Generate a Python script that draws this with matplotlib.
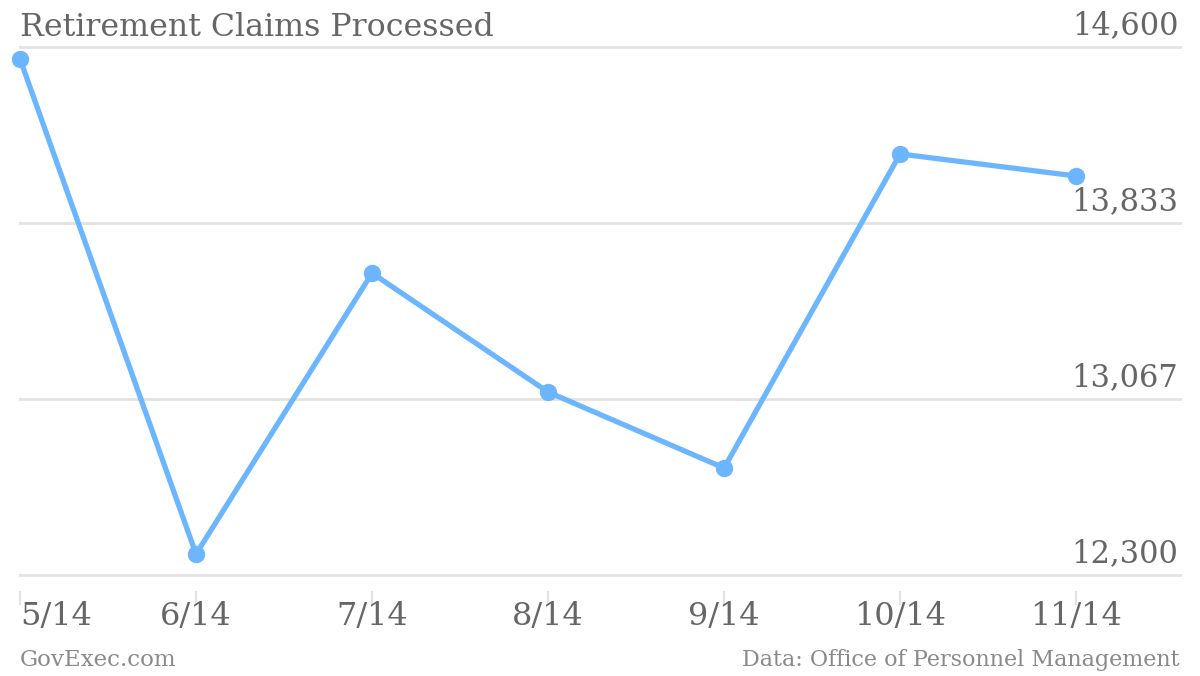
import matplotlib.pyplot as plt
import matplotlib.transforms as mtransforms

# data
months = ['5/14', '6/14', '7/14', '8/14', '9/14', '10/14', '11/14']
claims = [14548, 12391, 13615, 13097, 12766, 14134, 14038]
y_ticks = [12300, 13067, 13833, 14600]
y_labels = ['12,300', '13,067', '13,833', '14,600']

txt = '#666666'
light = '#8a8a8a'
grid = '#e2e2e2'
blue = '#6cb6ff'
font = 'DejaVu Serif'

fig = plt.figure(figsize=(12, 6.76), dpi=100)
ax = fig.add_axes([20 / 1200, 1 - 575 / 676, 1160 / 1200, 528 / 676])

x = list(range(len(months)))
ax.plot(x, claims, color=blue, linewidth=3.8, marker='o', markersize=11.5,
        solid_capstyle='round', clip_on=False, zorder=5)

ax.set_xlim(0, 6.59)
ax.set_ylim(y_ticks[0], y_ticks[-1])

# grid lines + right side labels sitting on them
for v, lab in zip(y_ticks, y_labels):
    ax.axhline(v, color=grid, linewidth=2, zorder=1, clip_on=False)
    ax.text(0.9985, v + 25, lab, transform=ax.get_yaxis_transform(), ha='right',
            va='bottom', fontsize=22, color=txt, family=font)

for s in ax.spines.values():
    s.set_visible(False)
ax.set_xticks([])
ax.set_yticks([])

# x ticks drawn below the axis
trans = mtransforms.blended_transform_factory(ax.transData, fig.transFigure)
for i, m in enumerate(x):
    ax.plot([m, m], [1 - 592 / 676, 1 - 604 / 676], color=grid, linewidth=1.5,
            transform=trans, clip_on=False)
    ax.text(m, 1 - 617 / 676, months[i], transform=trans,
            ha='left' if i == 0 else 'center', va='center', fontsize=23,
            color=txt, family=font)

fig.text(20 / 1200, 1 - 27 / 676, 'Retirement Claims Processed', ha='left',
         va='center', fontsize=22.8, color=txt, family=font)
fig.text(20 / 1200, 1 - 660 / 676, 'GovExec.com', ha='left', va='center',
         fontsize=16.5, color=light, family=font)
fig.text(1180 / 1200, 1 - 660 / 676, 'Data: Office of Personnel Management',
         ha='right', va='center', fontsize=16, color=light, family=font)

fig.savefig('out.png', dpi=100, facecolor='white')
